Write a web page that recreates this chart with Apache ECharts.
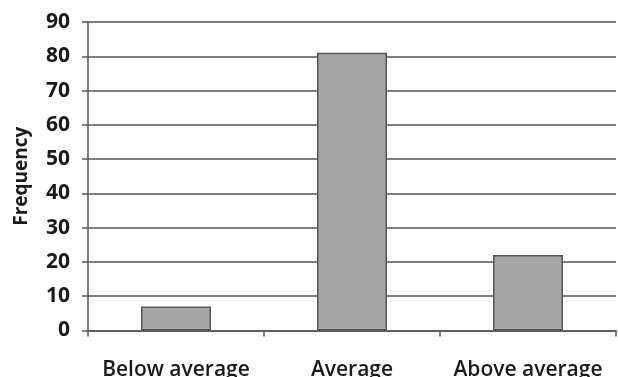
<!DOCTYPE html>
<html>
<head>
<meta charset="utf-8">
<script src="https://cdn.jsdelivr.net/npm/echarts@6/dist/echarts.min.js"></script>
<style>html,body{margin:0;padding:0;background:#fff;}#c{width:618px;height:377px;}</style>
</head>
<body>
<div id="c"></div>
<script>
const categories = ['Below average', 'Average', 'Above average'];
const frequency = [7, 81, 22];
const yMin = 0, yMax = 90, yStep = 10;
const yTitle = 'Frequency';

const chart = echarts.init(document.getElementById('c'), null, {renderer: 'canvas'});
chart.setOption({
  animation: false,
  backgroundColor: '#ffffff',
  grid: {left: 88, right: 2, top: 22, bottom: 46.5, containLabel: false, outerBoundsMode: 'none'},
  xAxis: {
    type: 'category',
    data: categories,
    boundaryGap: true,
    axisLine: {show: true, lineStyle: {color: '#555', width: 1.5}},
    axisTick: {show: true, alignWithLabel: false, length: 6, lineStyle: {color: '#555', width: 1.5}},
    axisLabel: {interval: 0, hideOverlap: false, margin: 29, color: '#1a1a1a', fontFamily: 'Open Sans', fontWeight: 600, fontSize: 21},
    splitLine: {show: false}
  },
  yAxis: {
    type: 'value',
    min: yMin, max: yMax, interval: yStep,
    name: yTitle,
    nameLocation: 'middle',
    nameGap: 57,
    nameRotate: 90,
    nameTextStyle: {color: '#1a1a1a', fontFamily: 'Open Sans', fontWeight: 700, fontSize: 19},
    axisLine: {show: true, lineStyle: {color: '#555', width: 1.5}},
    axisTick: {show: true, length: 6, lineStyle: {color: '#555', width: 1.5}},
    axisLabel: {margin: 18, color: '#1a1a1a', fontFamily: 'Open Sans', fontWeight: 700, fontSize: 21},
    splitLine: {show: true, lineStyle: {color: '#555555', width: 1.5}}
  },
  series: [{
    type: 'bar',
    data: frequency,
    barWidth: 70,
    itemStyle: {color: '#a6a6a6', borderColor: '#555', borderWidth: 1.5}
  }]
});
</script>
</body>
</html>
